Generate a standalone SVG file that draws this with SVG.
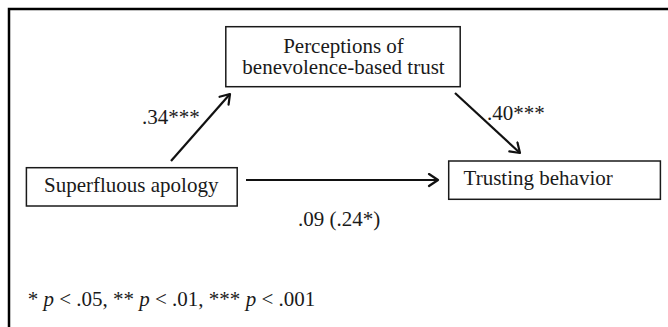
<svg xmlns="http://www.w3.org/2000/svg" width="668" height="327" viewBox="0 0 668 327">
<defs>
<style>
.box{fill:#fff;stroke:#1a1a1a;stroke-width:1.5}
.t{font-family:"Liberation Serif","Times New Roman",serif;font-size:21px;fill:#1a1a1a}
.c{text-anchor:middle}
.edge{stroke:#111;stroke-width:2.2;fill:none;marker-end:url(#ah)}
</style>
<marker id="ah" markerUnits="userSpaceOnUse" markerWidth="16" markerHeight="16" refX="11" refY="7" orient="auto">
<path d="M2,1 L11,7 L2,13" fill="none" stroke="#111" stroke-width="2.2" stroke-linecap="round" stroke-linejoin="round"/>
</marker>
</defs>
<rect width="668" height="327" fill="#fff"/>
<path d="M9,327 V9 H668" fill="none" stroke="#000" stroke-width="2.5"/>
<g id="connectors">
<line class="edge" x1="171" y1="161" x2="230" y2="94"/>
<line class="edge" x1="455" y1="93" x2="520" y2="153"/>
<line class="edge" x1="246" y1="180" x2="438" y2="180"/>
</g>
<g id="mediator">
<rect class="box" x="225.8" y="26.7" width="234.4" height="60"/>
<text class="t c" x="343.5" y="53">Perceptions of</text>
<text class="t c" x="343.5" y="74">benevolence-based trust</text>
</g>
<g id="predictor">
<rect class="box" x="26.4" y="167.7" width="210.8" height="38.3"/>
<text class="t" x="44" y="191.5">Superfluous apology</text>
</g>
<g id="outcome">
<rect class="box" x="448.7" y="161" width="211.7" height="38.3"/>
<text class="t" x="463.6" y="185">Trusting behavior</text>
</g>
<g id="labels">
<text class="t" x="142" y="124">.34***</text>
<text class="t" x="487" y="120">.40***</text>
<text class="t" x="298" y="226">.09 (.24*)</text>
</g>
<g id="note">
<text class="t" x="27.7" y="306">* <tspan font-style="italic">p</tspan> &lt; .05, ** <tspan font-style="italic">p</tspan> &lt; .01, *** <tspan font-style="italic">p</tspan> &lt; .001</text>
</g>
</svg>
